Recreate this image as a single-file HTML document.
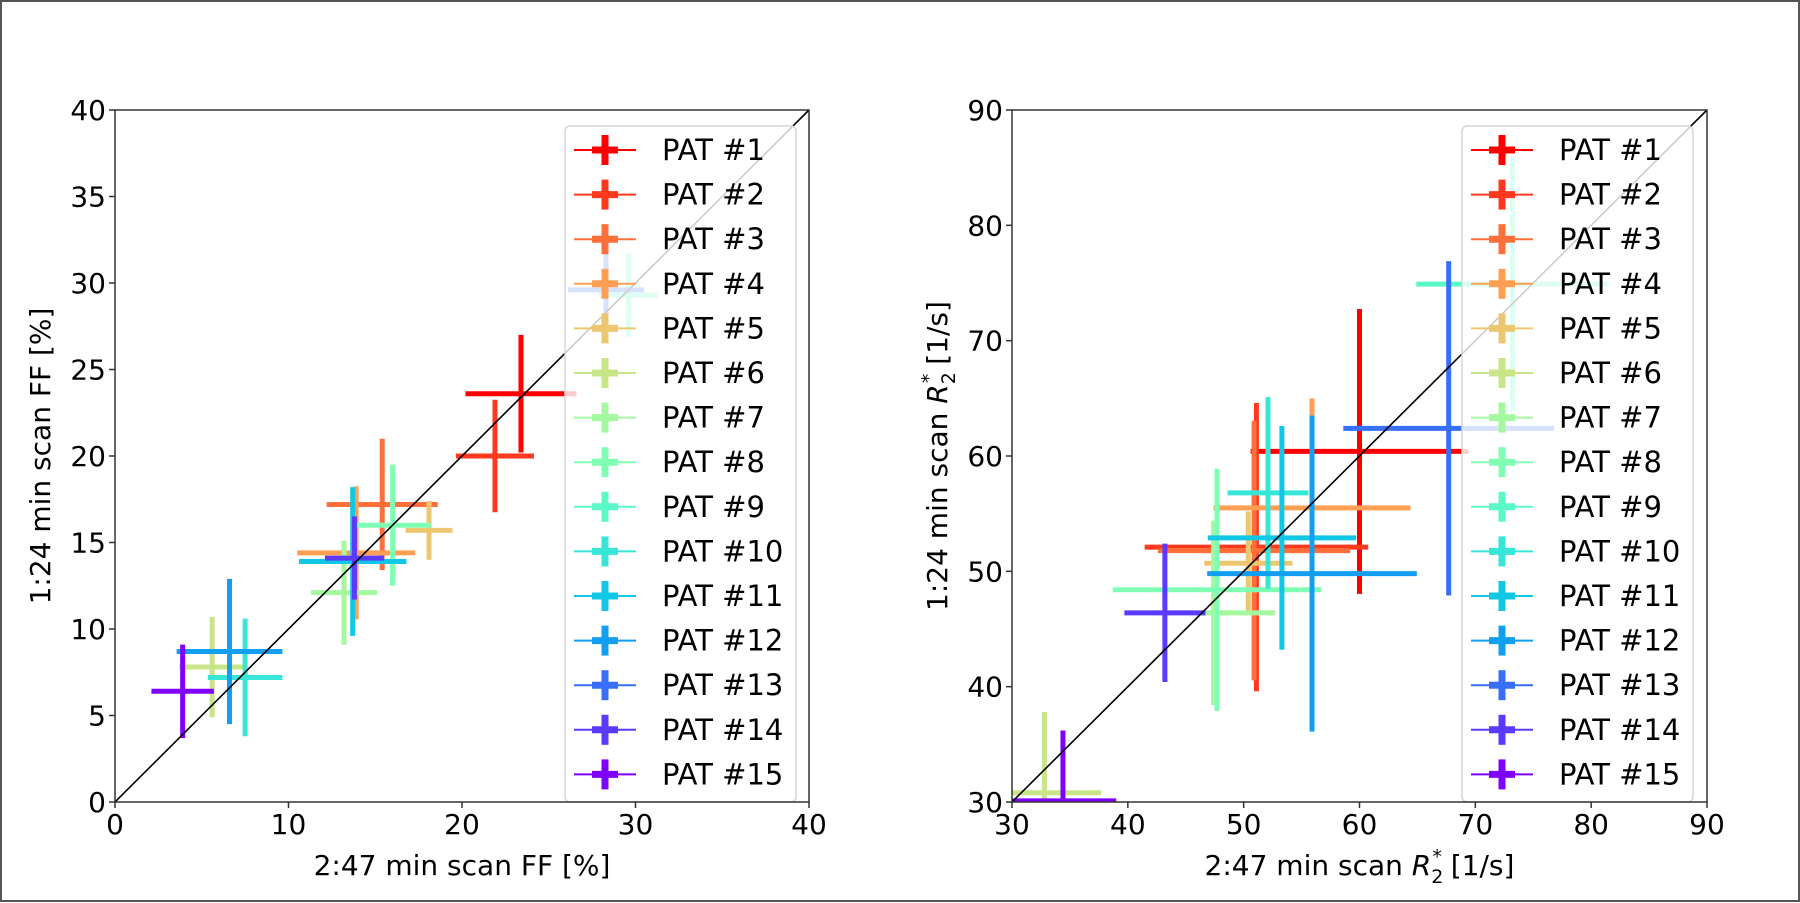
<!DOCTYPE html>
<html><head><meta charset="utf-8"><style>
html,body{margin:0;padding:0;background:#fff}
svg{display:block}
text{font-family:"DejaVu Sans","Liberation Sans",sans-serif;fill:#000}
</style></head><body>
<svg id="fig" width="1800" height="903" viewBox="0 0 1800 903">
<rect x="1" y="1" width="1798" height="900" fill="#fff" stroke="#555" stroke-width="2"/>
<g id="p1"></g>
<g id="p2"></g>
</svg>
<script>
const patients = ["PAT #1","PAT #2","PAT #3","PAT #4","PAT #5","PAT #6","PAT #7","PAT #8","PAT #9","PAT #10","PAT #11","PAT #12","PAT #13","PAT #14","PAT #15"];
// Left panel: FF [%]
const ffX    = [23.4, 21.9, 15.4, 13.9, 18.1, 5.6, 13.2, 16.0, 29.6, 7.5, 13.7, 6.6, 28.3, 13.8, 3.9];
const ffY    = [23.6, 20.0, 17.2, 14.4, 15.7, 7.8, 12.1, 16.0, 29.3, 7.2, 13.9, 8.7, 29.6, 14.1, 6.4];
const ffXerr = [3.2, 2.25, 3.2, 3.4, 1.35, 1.9, 1.9, 2.2, 1.7, 2.15, 3.1, 3.05, 2.2, 1.7, 1.8];
const ffYerr = [3.4, 3.25, 3.8, 3.85, 1.7, 2.9, 3.0, 3.5, 2.4, 3.4, 4.3, 4.2, 2.1, 2.4, 2.7];
const ffTicksX = [0,10,20,30,40];
const ffTicksY = [0,5,10,15,20,25,30,35,40];
// Right panel: R2* [1/s]
const r2X    = [60.0, 51.1, 50.9, 55.9, 50.4, 32.8, 47.4, 47.7, 73.2, 52.1, 53.3, 55.9, 67.7, 43.2, 34.4];
const r2Y    = [60.4, 52.1, 51.8, 55.5, 50.7, 30.8, 46.4, 48.4, 74.9, 56.8, 52.9, 49.8, 62.4, 46.4, 30.1];
const r2Xerr = [9.4, 9.65, 8.3, 8.5, 3.8, 4.9, 5.3, 9.0, 8.3, 3.5, 6.4, 9.05, 9.1, 3.5, 4.6];
const r2Yerr = [12.35, 12.5, 11.25, 9.5, 4.5, 7.0, 8.0, 10.5, 11.0, 8.3, 9.7, 13.7, 14.5, 6.0, 6.1];
const r2Ticks = [30,40,50,60,70,80,90];

const NS = "http://www.w3.org/2000/svg";
function mk(tag, attrs, parent){const e=document.createElementNS(NS,tag);for(const k in attrs)e.setAttribute(k,attrs[k]);parent.appendChild(e);return e;}
function color(i){
  const x = 1 - i/14;
  const r = Math.min(1, Math.abs(2*x-0.5)), g = Math.sin(Math.PI*x), b = Math.cos(Math.PI*x/2);
  return `rgb(${Math.round(r*255)},${Math.round(g*255)},${Math.round(b*255)})`;
}

function panel(g, cfg){
  const {x0,x1,y0,y1,vmin,vmax,xs,ys,xe,ye,tx,ty,legX,xlabel,ylabel} = cfg;
  const sx = v => x0 + (v-vmin)/(vmax-vmin)*(x1-x0);
  const sy = v => y0 - (v-vmin)/(vmax-vmin)*(y0-y1);
  const clip = "clip"+g.id;
  const defs = mk("defs",{},g);
  const cp = mk("clipPath",{id:clip},defs);
  mk("rect",{x:x0,y:y1,width:x1-x0,height:y0-y1},cp);
  const data = mk("g",{"clip-path":`url(#${clip})`},g);
  for(let i=0;i<xs.length;i++){
    const c=color(i);
    const grp = mk("g",{},data);
    
    
    mk("line",{x1:sx(xs[i]-xe[i]),x2:sx(xs[i]+xe[i]),y1:sy(ys[i]),y2:sy(ys[i]),stroke:c,"stroke-width":5},grp);
    mk("line",{x1:sx(xs[i]),x2:sx(xs[i]),y1:sy(ys[i]-ye[i]),y2:sy(ys[i]+ye[i]),stroke:c,"stroke-width":5},grp);
  }
  const diag = mk("line",{x1:sx(vmin),y1:sy(vmin),x2:sx(vmax),y2:sy(vmax),stroke:"#000","stroke-width":1.6},g);
  
  
  const lg = mk("g",{},g);
  
  
  mk("rect",{x:legX,y:126,width:231,height:676,rx:5,fill:"#fff","fill-opacity":0.8,stroke:"#d6d6d6","stroke-width":1.5},lg);
  for(let i=0;i<patients.length;i++){
    const c=color(i), y=150+i*44.6;
    const e = mk("g",{},lg);
    
    
    mk("line",{x1:legX+9,x2:legX+71,y1:y,y2:y,stroke:c,"stroke-width":2},e);
    mk("line",{x1:legX+27,x2:legX+53,y1:y,y2:y,stroke:c,"stroke-width":7},e);
    mk("line",{x1:legX+40,x2:legX+40,y1:y-15,y2:y+15,stroke:c,"stroke-width":7},e);
    const t = mk("text",{x:legX+97,y:y+10,"font-size":29},e); t.textContent=patients[i];
  }
  const ax = mk("rect",{x:x0,y:y1,width:x1-x0,height:y0-y1,fill:"none",stroke:"#333","stroke-width":1.5},g);
  
  
  tx.forEach(v=>{
    mk("line",{x1:sx(v),x2:sx(v),y1:y0,y2:y0+6,stroke:"#333","stroke-width":1.5},g);
    const t=mk("text",{x:sx(v),y:834,"font-size":28,"text-anchor":"middle"},g);
    
    
    t.textContent=v;
  });
  ty.forEach(v=>{
    mk("line",{x1:x0-6,x2:x0,y1:sy(v),y2:sy(v),stroke:"#333","stroke-width":1.5},g);
    const t=mk("text",{x:x0-9,y:sy(v)+10,"font-size":28,"text-anchor":"end"},g);
    
    
    t.textContent=v;
  });
  const xl = mk("text",{x:(x0+x1)/2,y:875,"font-size":28,"text-anchor":"middle"},g);
  
  
  xl.innerHTML = xlabel;
  const cy=(y0+y1)/2, cx=x0-65;
  const yl = mk("text",{x:cx,y:cy,"font-size":28,"text-anchor":"middle",transform:`rotate(-90 ${cx} ${cy})`},g);
  
  
  yl.innerHTML = ylabel;
}

panel(document.getElementById("p1"),{x0:115,x1:809,y0:802,y1:110,vmin:0,vmax:40,xs:ffX,ys:ffY,xe:ffXerr,ye:ffYerr,tx:ffTicksX,ty:ffTicksY,legX:565,
  xlabel:"2:47 min scan FF [%]", ylabel:"1:24 min scan FF [%]"});
const r2 = '<tspan font-style="italic">R</tspan><tspan font-size="19" dy="8">2</tspan><tspan font-size="19" dx="-11" dy="-20">*</tspan><tspan dy="12"> [1/s]</tspan>';
panel(document.getElementById("p2"),{x0:1012,x1:1707,y0:802,y1:110,vmin:30,vmax:90,xs:r2X,ys:r2Y,xe:r2Xerr,ye:r2Yerr,tx:r2Ticks,ty:r2Ticks,legX:1462,
  xlabel:"2:47 min scan "+r2, ylabel:"1:24 min scan "+r2});
</script>
</body></html>
